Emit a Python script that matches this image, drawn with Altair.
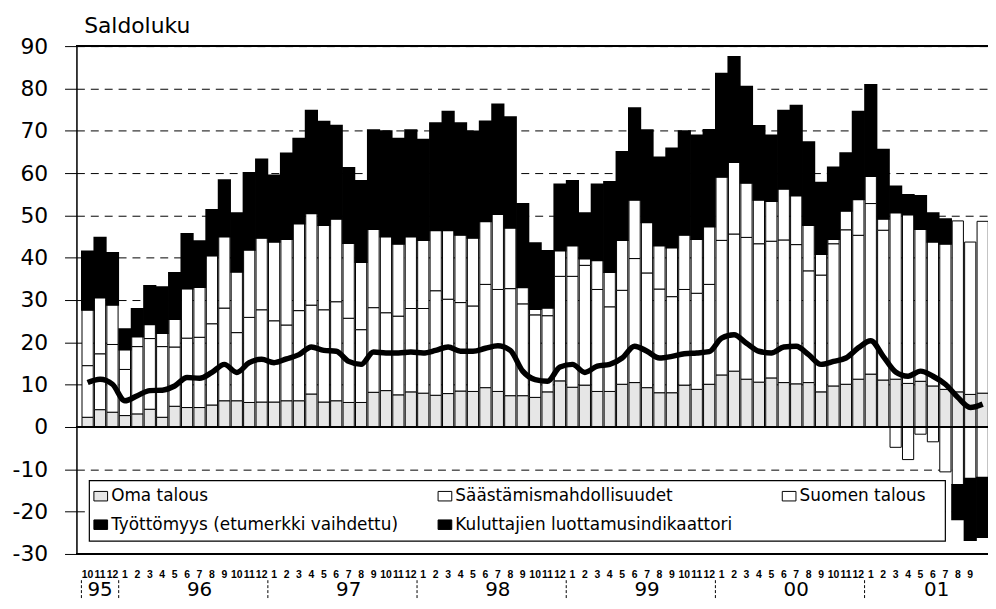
import altair as alt
import pandas as pd

# ---- data (Oct 1995 .. Oct 2001, monthly) ----
title_text = "Saldoluku"

month_labels = ["10", "11", "12",
                "1", "2", "3", "4", "5", "6", "7", "8", "9", "10", "11", "12",
                "1", "2", "3", "4", "5", "6", "7", "8", "9", "10", "11", "12",
                "1", "2", "3", "4", "5", "6", "7", "8", "9", "10", "11", "12",
                "1", "2", "3", "4", "5", "6", "7", "8", "9", "10", "11", "12",
                "1", "2", "3", "4", "5", "6", "7", "8", "9", "10", "11", "12",
                "1", "2", "3", "4", "5", "6", "7", "8", "9", "10"]

oma_talous = [2.3, 4.1, 3.5, 2.7, 3.1, 4.2, 2.3, 4.9, 4.6, 4.6, 5.2, 6.2, 6.2, 5.8, 5.9,
              5.9, 6.2, 6.2, 7.8, 5.9, 6.2, 5.8, 5.8, 8.2, 8.6, 7.6, 8.3,
              8.0, 7.5, 7.9, 8.5, 8.4, 9.3, 8.4, 7.4, 7.4, 7.0, 8.3, 10.9,
              9.4, 9.9, 8.4, 8.4, 10.1, 10.5, 9.3, 8.1, 8.1, 9.9, 8.9, 10.1,
              12.3, 13.2, 11.3, 10.6, 11.6, 10.5, 10.2, 10.5, 8.3, 9.7, 10.1, 11.3,
              12.5, 11.1, 11.3, 10.3, 10.8, 9.7, 8.9, 8.3, 7.7, 8.0]
saastaminen = [12.2, 13.2, 16.0, 10.9, 15.9, 16.7, 16.7, 14.0, 16.4, 16.6, 19.2, 21.9, 16.1, 20.1, 21.8,
               19.2, 17.9, 21.3, 21.0, 21.8, 23.4, 19.9, 17.2, 20.0, 18.4, 18.6, 19.7,
               20.0, 24.7, 22.3, 20.9, 20.2, 24.4, 24.1, 25.3, 21.7, 19.5, 18.0, 24.7,
               26.2, 28.3, 24.1, 20.0, 22.2, 29.3, 27.1, 24.5, 22.7, 22.6, 22.7, 23.6,
               31.8, 32.4, 33.5, 32.7, 32.3, 33.7, 32.9, 26.4, 27.6, 33.6, 36.5, 34.0,
               40.3, 35.4, 39.4, 39.9, 36.0, 34.1, 34.4, 40.4, 36.0, 40.6]
suomen_talous = [13.2, 13.3, 9.4, 4.7, 2.4, 3.4, 3.2, 6.6, 11.7, 11.9, 16.1, 16.9, 14.4, 16.0, 17.0,
                 18.7, 20.3, 20.6, 21.7, 20.0, 19.6, 17.8, 16.0, 18.6, 18.0, 17.1, 17.0,
                 16.2, 14.3, 16.3, 16.0, 16.1, 14.9, 17.8, 14.4, 3.9, 1.4, 1.9, 6.1,
                 7.3, 1.6, 6.9, 8.2, 11.9, 13.9, 12.0, 10.3, 11.6, 12.9, 12.8, 13.7,
                 15.0, 17.0, 12.9, 10.4, 9.5, 12.1, 11.6, 10.8, 5.0, 1.1, 4.5, 8.5,
                 6.5, 2.7, -4.8, -7.7, -1.7, -3.5, -10.6, -13.7, -12.2, -12.0]
tyottomyys = [13.8, 14.1, 12.2, 4.8, 6.5, 9.0, 10.8, 10.9, 12.9, 10.8, 10.8, 13.3, 13.8, 18.1, 18.5,
              15.6, 20.2, 20.0, 24.2, 24.4, 22.0, 17.7, 19.1, 23.3, 24.9, 24.8, 25.1,
              23.7, 25.3, 28.0, 26.4, 25.1, 23.6, 25.9, 26.1, 19.7, 15.5, 13.4, 15.6,
              15.2, 10.7, 17.9, 21.3, 20.8, 21.6, 21.7, 20.8, 23.4, 24.5, 24.5, 22.8,
              24.4, 24.8, 22.7, 17.4, 15.5, 18.4, 21.2, 19.6, 16.8, 16.9, 13.6, 20.7,
              21.5, 16.3, 6.1, 4.6, 7.8, 6.7, 5.8, -8.1, -14.5, -14.0]
luottamus = [10.5, 11.3, 10.1, 6.2, 7.4, 8.6, 8.7, 9.7, 11.7, 11.5, 12.9, 14.8, 12.9, 15.2, 16.0,
             15.2, 16.1, 17.1, 18.9, 18.1, 17.9, 15.5, 14.8, 17.7, 17.5, 17.5, 17.7,
             17.5, 18.1, 18.9, 17.9, 17.9, 18.6, 19.2, 18.1, 13.2, 11.2, 10.8, 14.2,
             14.8, 12.9, 14.4, 14.8, 16.3, 19.1, 17.9, 16.3, 16.7, 17.3, 17.5, 17.8,
             21.0, 21.8, 19.8, 17.9, 17.5, 18.9, 19.1, 17.1, 14.8, 15.5, 16.3, 18.7,
             20.4, 16.7, 13.0, 12.0, 13.2, 12.0, 10.1, 7.0, 4.6, 5.4]

year_labels = ["95", "96", "97", "98", "99", "00", "01"]
year_centers = [1.0, 9.0, 21.0, 33.0, 45.0, 57.0, 68.3]
year_breaks = [-0.5, 2.5, 14.5, 26.5, 38.5, 50.5, 62.5]

series_names = ["Oma talous", "Säästämismahdollisuudet", "Suomen talous",
                "Työttömyys (etumerkki vaihdettu)", "Kuluttajien luottamusindikaattori"]
series_colors = ["#e6e6e6", "white", "white", "black", "black"]

WIDE = "DejaVu Sans, sans-serif"

# ---- tables built from the arrays ----
components = [oma_talous, saastaminen, suomen_talous, tyottomyys]
rows = []
for k, arr in enumerate(components):
    for i, v in enumerate(arr):
        rows.append({"i": i, "series": series_names[k], "value": v, "ord": k})
df_bars = pd.DataFrame(rows)
df_line = pd.DataFrame({"i": list(range(len(luottamus))), "cci": luottamus})
df_months = pd.DataFrame({"i": list(range(len(month_labels) - 1)), "lab": month_labels[:-1]})
df_years = pd.DataFrame({"x": year_centers, "lab": year_labels})
df_breaks = pd.DataFrame({"x": year_breaks})
df_title = pd.DataFrame({"lab": [title_text]})

xscale = alt.Scale(domain=[-0.5, 72.03], nice=False, zero=False)
yscale = alt.Scale(domain=[-30, 90], nice=False)

bars = alt.Chart(df_bars).transform_calculate(
    sw="datum.ord == 3 ? 2 : 1"
).mark_bar(orient="vertical", width=11.3, stroke="black", clip=True).encode(
    x=alt.X("i:Q", scale=xscale, axis=None),
    y=alt.Y("value:Q", stack="zero", scale=yscale,
            axis=alt.Axis(values=list(range(-30, 91, 10)), title=None,
                          labelExpr="'' + datum.value",
                          labelFont=WIDE, labelFontSize=22, labelColor="black",
                          labelPadding=17, tickSize=12, tickColor="black", tickWidth=1,
                          domainColor="black", domainWidth=1.5,
                          grid=True, gridColor="black", gridDash=[8, 6], gridWidth=1,
                          gridOpacity=1)),
    color=alt.Color("series:N",
                    scale=alt.Scale(domain=series_names, range=series_colors),
                    legend=alt.Legend(title=None, orient="none", legendX=16, legendY=445,
                                      direction="horizontal", columns=3, gridAlign="all",
                                      symbolType="M-1.15,-0.8H1.15V0.8H-1.15Z",
                                      symbolSize=144, symbolStrokeColor="black",
                                      symbolStrokeWidth=1, labelFont=WIDE, labelFontSize=17,
                                      labelColor="black", labelLimit=500, labelOffset=2,
                                      columnPadding=37, rowPadding=11, padding=0)),
    order=alt.Order("ord:Q", sort="ascending"),
    strokeWidth=alt.StrokeWidth("sw:Q", scale=None, legend=None),
)

legend_box = alt.Chart(df_title).mark_rect(fill="white", stroke="black",
                                           strokeWidth=1.2).encode(
    x=alt.value(13), x2=alt.value(876), y=alt.value(438), y2=alt.value(499))

zero_rule = alt.Chart(df_line).mark_rule(color="black", strokeWidth=1.5).encode(
    y=alt.datum(0, scale=yscale))
top_rule = alt.Chart(df_line).mark_rule(color="black", strokeWidth=2).encode(
    y=alt.datum(90, scale=yscale))
bottom_rule = alt.Chart(df_line).mark_rule(color="black", strokeWidth=1.5).encode(
    y=alt.datum(-30, scale=yscale))

line = alt.Chart(df_line).mark_line(color="black", strokeWidth=5.5,
                                    interpolate="monotone").encode(
    x=alt.X("i:Q", scale=xscale),
    y=alt.Y("cci:Q", scale=yscale),
)

title = alt.Chart(df_title).mark_text(
    font=WIDE, fontSize=22, color="black", baseline="alphabetic", align="left").encode(
    x=alt.datum(-0.28, scale=xscale),
    y=alt.datum(93.0, scale=yscale),
    text="lab:N",
)

month_text = alt.Chart(df_months).mark_text(
    font="Liberation Sans Narrow, Liberation Sans, Arial", fontSize=10.5, fontWeight="bold",
    color="black", baseline="middle", align="center").encode(
    x=alt.X("i:Q", scale=xscale),
    y=alt.datum(-34.9, scale=yscale),
    text="lab:N",
)

year_text = alt.Chart(df_years).mark_text(
    font=WIDE, fontSize=20, color="black", baseline="middle", align="center").encode(
    x=alt.X("x:Q", scale=xscale),
    y=alt.datum(-38.6, scale=yscale),
    text="lab:N",
)

year_sep = alt.Chart(df_breaks).mark_rule(color="black", strokeWidth=1,
                                          strokeDash=[3, 2]).encode(
    x=alt.X("x:Q", scale=xscale),
    y=alt.datum(-36.2, scale=yscale),
    y2=alt.datum(-40.8),
)

chart = alt.layer(bars, legend_box, zero_rule, top_rule, bottom_rule, line,
                  title, month_text, year_text, year_sep).properties(
    width=919, height=512,
    autosize=alt.AutoSizeParams(type="none"),
    padding={"left": 69, "top": 36, "right": 0, "bottom": 45},
).configure_view(stroke=None).configure(background="white")

chart.save("out.html", embed_options={"renderer": "svg", "actions": False})
